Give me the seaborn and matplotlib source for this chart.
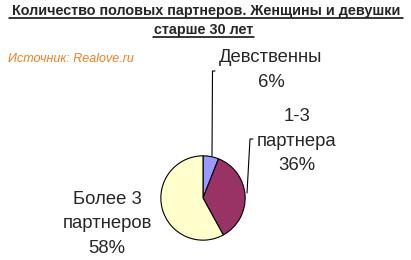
import matplotlib
matplotlib.use("Agg")
import matplotlib.pyplot as plt
from matplotlib.lines import Line2D
import seaborn as sns

categories = ["Девственны", "1-3\nпартнера", "Более 3\nпартнеров"]
values = [6, 36, 58]
colors = ["#9999FF", "#993366", "#FFFFCC"]
title_lines = ["Количество половых партнеров. Женщины и девушки", "старше 30 лет"]
source = "Источник: Realove.ru"

sns.set_style("white")
plt.rcParams['font.family'] = ['Liberation Sans', 'DejaVu Sans']

W, H = 411, 260
fig = plt.figure(figsize=(W / 100, H / 100), dpi=100)
fig.patch.set_facecolor("white")

def fx(x):
    return x / W

def fy(y):
    return 1 - y / H

cx, cy, r = 203, 198, 43
ax = fig.add_axes([fx(cx - r), fy(cy + r), 2 * r / W, 2 * r / H])
ax.pie(values, colors=colors, startangle=90, counterclock=False,
       wedgeprops=dict(edgecolor="black", linewidth=0.8), radius=1)
ax.set_xlim(-1.02, 1.02)
ax.set_ylim(-1.02, 1.02)
ax.set_aspect("equal")
ax.axis("off")

# Title
fig.text(fx(206), fy(10.5), title_lines[0],
         ha="center", va="center", fontsize=10.4, fontweight="bold")
fig.text(fx(204), fy(30), title_lines[1],
         ha="center", va="center", fontsize=10.4, fontweight="bold")
# underlines
fig.add_artist(Line2D([fx(9), fx(403)], [fy(18), fy(18)], color="black", lw=1.1))
fig.add_artist(Line2D([fx(153), fx(254)], [fy(37.5), fy(37.5)], color="black", lw=1.1))

# Source
fig.text(fx(8), fy(59), source, ha="left", va="center", fontsize=9,
         style="italic", color="#F0801E")

# Labels
lab = [f"{c}\n{v}%" for c, v in zip(categories, values)]
kw = dict(ha="center", va="center", fontsize=13.3, linespacing=1.55)
fig.text(fx(271), fy(70), lab[0], **kw)
fig.text(fx(297), fy(141), lab[1], **kw)
fig.text(fx(107), fy(224), lab[2], **kw)

# Leader lines
fig.add_artist(Line2D([fx(215), fx(212.5), fx(212)], [fy(71), fy(71), fy(156)],
                      color="black", lw=0.8))
fig.add_artist(Line2D([fx(253), fx(250), fx(247)], [fy(139), fy(139), fy(193)],
                      color="black", lw=0.8))

fig.savefig("out.png", dpi=100, facecolor="white")
